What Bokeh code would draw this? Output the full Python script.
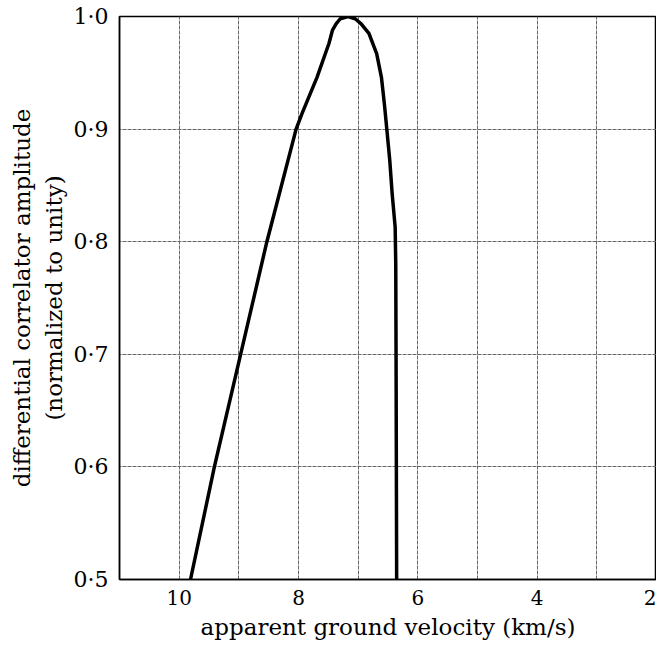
from bokeh.plotting import figure
from bokeh.models import FixedTicker, Range1d
from bokeh.embed import file_html
from bokeh.resources import INLINE

# curve: apparent ground velocity (km/s) vs normalized amplitude
velocity = [9.81, 9.41, 8.97, 8.53, 8.04, 7.94, 7.69, 7.49, 7.43, 7.37, 7.30, 7.17,
            7.05, 6.95, 6.82, 6.69, 6.61, 6.56, 6.52, 6.47, 6.43, 6.38, 6.37,
            6.365, 6.36, 6.355]
amplitude = [0.50, 0.60, 0.70, 0.80, 0.90, 0.914, 0.946, 0.976, 0.988, 0.9935, 0.998, 1.0,
             0.998, 0.9935, 0.985, 0.967, 0.946, 0.922, 0.90, 0.872, 0.8425, 0.813, 0.78,
             0.70, 0.60, 0.50]

x_major = [10, 8, 6, 4, 2]
x_minor = [9, 7, 5, 3]
y_ticks = [0.5, 0.6, 0.7, 0.8, 0.9, 1.0]
y_tick_labels = ["0·5", "0·6", "0·7", "0·8", "0·9", "1·0"]

FONT = "DejaVu Serif"

p = figure(width=656, height=647, output_backend="svg", toolbar_location=None,
           x_range=Range1d(11, 2), y_range=Range1d(0.5, 1.0),
           min_border_left=119, min_border_right=0, min_border_top=16,
           min_border_bottom=68)

p.outline_line_color = "black"
p.outline_line_width = 1.5

p.xaxis.ticker = FixedTicker(ticks=x_major, minor_ticks=x_minor)
p.yaxis.ticker = FixedTicker(ticks=y_ticks)
p.yaxis.major_label_overrides = {t: l for t, l in zip(y_ticks, y_tick_labels)}
p.xaxis.major_label_overrides = {t: str(t) for t in x_major}

for ax in (p.xaxis, p.yaxis):
    ax.major_tick_line_color = None
    ax.minor_tick_line_color = None
    ax.axis_line_color = "black"
    ax.axis_line_width = 1.5
    ax.major_label_text_font = FONT
    ax.major_label_text_color = "black"
    ax.axis_label_text_font = FONT
    ax.axis_label_text_font_style = "normal"
    ax.axis_label_text_color = "black"

p.xaxis.major_label_text_font_size = "20px"
p.yaxis.major_label_text_font_size = "22px"
p.xaxis.major_label_standoff = 4
p.yaxis.major_label_standoff = 5

p.xaxis.axis_label = "apparent ground velocity (km/s)"
p.xaxis.axis_label_text_font_size = "23px"
p.xaxis.axis_label_standoff = 6
p.yaxis.axis_label = "differential correlator amplitude\n(normalized to unity)"
p.yaxis.axis_label_text_font_size = "23px"
p.yaxis.axis_label_standoff = 4

for g in (p.xgrid, p.ygrid):
    g.grid_line_color = "#666666"
    g.grid_line_width = 1
    g.grid_line_dash = "4 1"
p.xgrid.minor_grid_line_color = "#666666"
p.xgrid.minor_grid_line_width = 1
p.xgrid.minor_grid_line_dash = "4 1"

p.line(velocity, amplitude, line_color="black", line_width=3.5, line_join="round")

open("out.html", "w").write(file_html(p, INLINE))
